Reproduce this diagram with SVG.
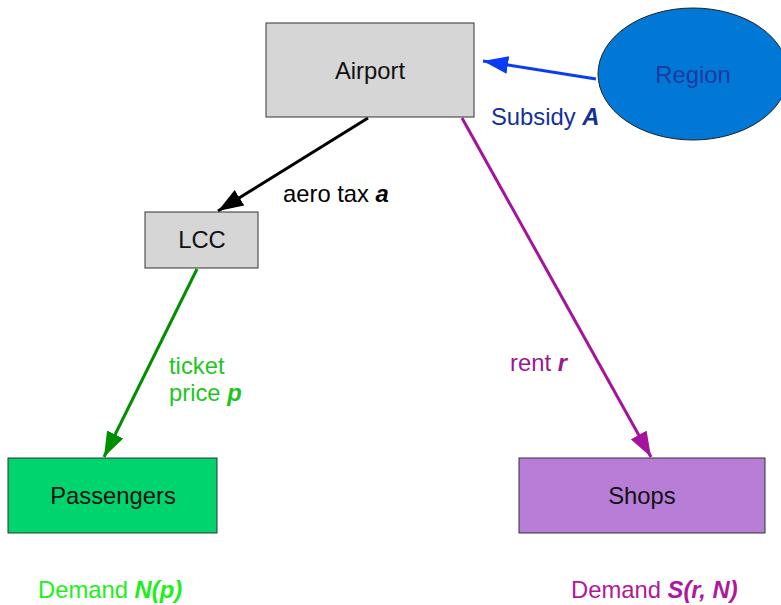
<svg xmlns="http://www.w3.org/2000/svg" width="781" height="605" viewBox="0 0 781 605">
<style>
text{font-family:"Liberation Sans",Arial,sans-serif;font-size:23.8px}
.box{stroke:#333;stroke-width:1}
.c{text-anchor:middle;fill:#111}
.b{font-weight:bold;font-style:italic}
.ln{fill:none;stroke-width:3}
</style>
<defs>
<marker id="mk" markerUnits="strokeWidth" markerWidth="8.4" markerHeight="6" refX="8.4" refY="3" orient="auto"><path d="M0,0 L8.4,3 L0,6 Z" fill="#000"/></marker>
<marker id="mb" markerUnits="strokeWidth" markerWidth="8.4" markerHeight="6" refX="8.4" refY="3" orient="auto"><path d="M0,0 L8.4,3 L0,6 Z" fill="#0a3cf5"/></marker>
<marker id="mg" markerUnits="strokeWidth" markerWidth="8.4" markerHeight="6" refX="8.4" refY="3" orient="auto"><path d="M0,0 L8.4,3 L0,6 Z" fill="#008f00"/></marker>
<marker id="mp" markerUnits="strokeWidth" markerWidth="8.4" markerHeight="6" refX="8.4" refY="3" orient="auto"><path d="M0,0 L8.4,3 L0,6 Z" fill="#a3139b"/></marker>
</defs>
<rect width="781" height="605" fill="#fff"/>
<g id="connectors">
<path class="ln" d="M596,79 L483,61" stroke="#0a3cf5" marker-end="url(#mb)"/>
<path class="ln" d="M368,118 L218,211" stroke="#000" marker-end="url(#mk)"/>
<path class="ln" d="M197,269 L104,457" stroke="#008f00" marker-end="url(#mg)"/>
<path class="ln" d="M462,118 L651,457" stroke="#a3139b" marker-end="url(#mp)"/>
<text x="491" y="125" fill="#13309b">Subsidy <tspan class="b">A</tspan></text>
<text x="283" y="202" fill="#000">aero tax <tspan class="b">a</tspan></text>
<text x="169" y="374" fill="#1fc51f">ticket</text>
<text x="169" y="401" fill="#1fc51f">price <tspan class="b">p</tspan></text>
<text x="510" y="371" fill="#9a1a8e">rent <tspan class="b">r</tspan></text>
</g>
<g id="airport">
<rect class="box" x="266" y="23" width="208" height="94" fill="#d6d6d6"/>
<text class="c" x="370" y="79">Airport</text>
</g>
<g id="region">
<ellipse cx="693" cy="74" rx="95" ry="66" fill="#0278d6" stroke="#222" stroke-width="1"/>
<text x="693" y="83" text-anchor="middle" fill="#1a3aa3">Region</text>
</g>
<g id="lcc">
<rect class="box" x="145" y="212" width="113" height="56" fill="#d6d6d6"/>
<text class="c" x="202" y="248">LCC</text>
</g>
<g id="passengers">
<rect class="box" x="8" y="458" width="209" height="75" fill="#00d46f"/>
<text class="c" x="113" y="504">Passengers</text>
<text x="38" y="598" fill="#1cef1c">Demand <tspan class="b">N(p)</tspan></text>
</g>
<g id="shops">
<rect class="box" x="519" y="458" width="246" height="75" fill="#b87dd7"/>
<text class="c" x="642" y="504">Shops</text>
<text x="571" y="598" fill="#ae189c">Demand <tspan class="b">S(r, N)</tspan></text>
</g>
</svg>
